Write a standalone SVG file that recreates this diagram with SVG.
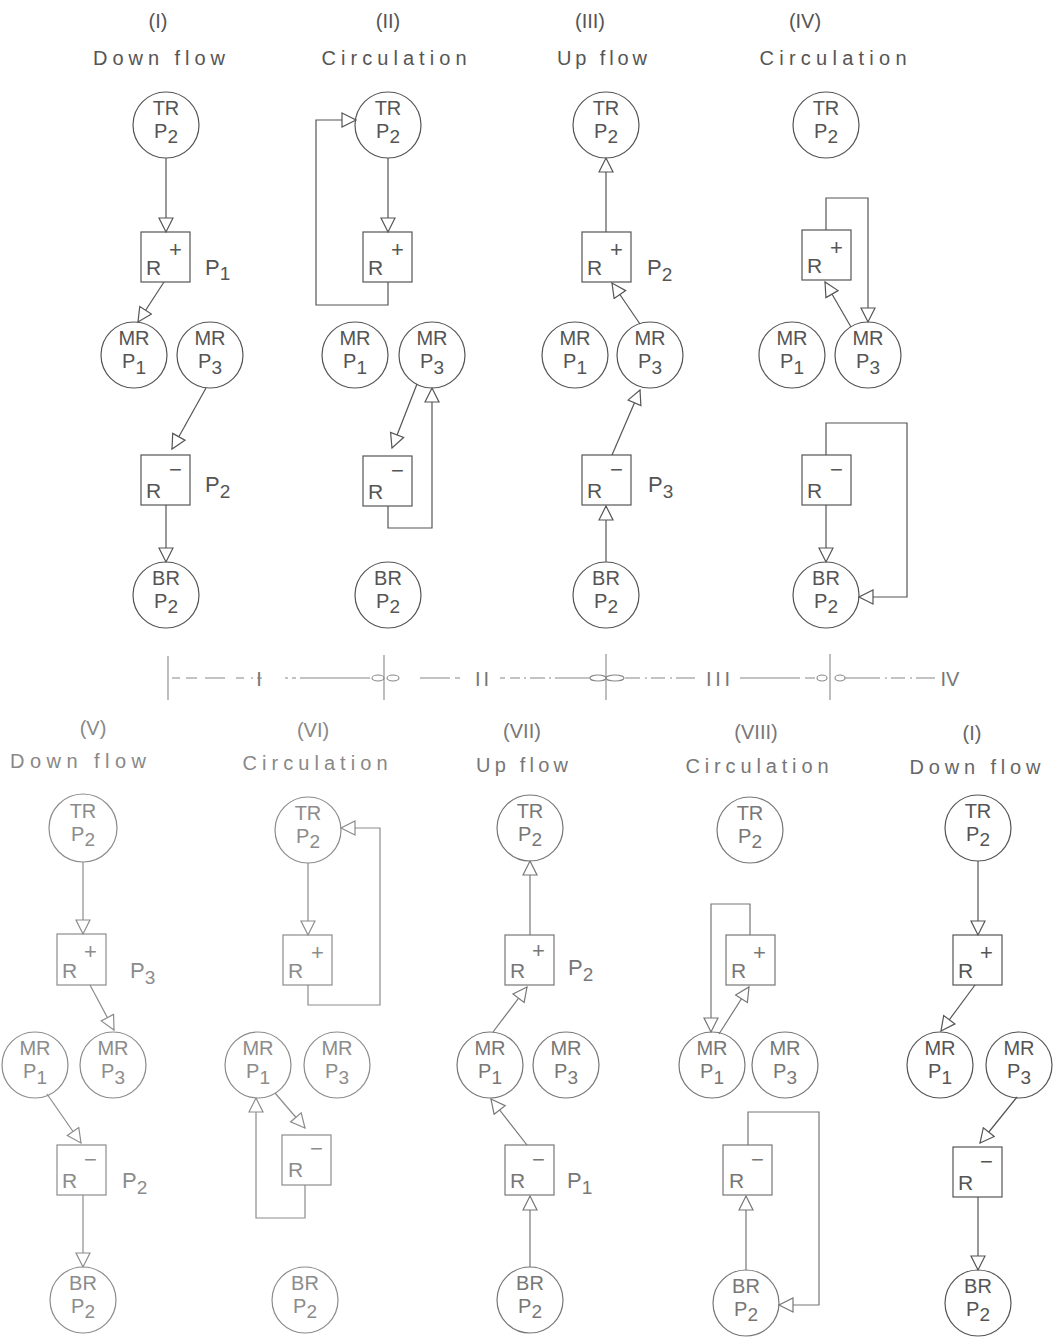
<svg xmlns="http://www.w3.org/2000/svg" width="1055" height="1337" viewBox="0 0 1055 1337">
<style>
text{font-family:"Liberation Sans","DejaVu Sans",sans-serif;fill:#555;}
.t{font-size:20px;text-anchor:middle;}
.n{font-size:20px;text-anchor:middle;}
.bl{font-size:21px;}
.sup{font-size:22px;}
.sb{font-size:19px;}
.lab{font-size:22px;}
circle,rect{fill:none;stroke:#555;stroke-width:1.2;}
rect.bg{fill:#fff;stroke:none;}
.c path{fill:none;stroke:#555;stroke-width:1.2;}
.lt text{fill:#777;}
.lt circle,.lt rect{stroke:#777;}
.vl text{fill:#8c8c8c;}
.vl circle,.vl rect{stroke:#8c8c8c;}
.cl path{stroke:#777;}
.cv path{stroke:#8c8c8c;}
.tl path,.tl line,.tl ellipse{fill:none;stroke:#888;stroke-width:1.1;}
.tl text{fill:#777;font-size:20px;text-anchor:middle;}
</style>
<defs>
<marker id="ah" viewBox="-1 -1 17 17" markerWidth="17" markerHeight="17" refX="14" refY="7" orient="auto" markerUnits="userSpaceOnUse"><path d="M0,0 L14,7 L0,14 Z" fill="#fff" stroke="#555" stroke-width="1.2"/></marker>
<marker id="ahl" viewBox="-1 -1 17 17" markerWidth="17" markerHeight="17" refX="14" refY="7" orient="auto" markerUnits="userSpaceOnUse"><path d="M0,0 L14,7 L0,14 Z" fill="#fff" stroke="#777" stroke-width="1.2"/></marker>
<marker id="ahv" viewBox="-1 -1 17 17" markerWidth="17" markerHeight="17" refX="14" refY="7" orient="auto" markerUnits="userSpaceOnUse"><path d="M0,0 L14,7 L0,14 Z" fill="#fff" stroke="#8c8c8c" stroke-width="1.2"/></marker>
</defs>
<rect class="bg" x="0" y="0" width="1055" height="1337"/>

<!-- ===== Titles top ===== -->
<g id="titles-top">
<text class="t" x="158" y="28">(I)</text>
<text class="t" x="159" y="65" textLength="132" lengthAdjust="spacing">Down flow</text>
<text class="t" x="388" y="28">(II)</text>
<text class="t" x="394" y="65" textLength="145" lengthAdjust="spacing">Circulation</text>
<text class="t" x="590" y="28">(III)</text>
<text class="t" x="602" y="65" textLength="90" lengthAdjust="spacing">Up flow</text>
<text class="t" x="805" y="28">(IV)</text>
<text class="t" x="833" y="65" textLength="147" lengthAdjust="spacing">Circulation</text>
</g>

<!-- ===== Panel I (top) ===== -->
<g id="p1-tr"><circle cx="166" cy="125" r="33"/><text class="n" x="166" y="115">TR</text><text class="n" x="166" y="138">P<tspan class="sb" dy="5">2</tspan></text></g>
<g id="p1-rp"><rect x="141" y="232" width="49" height="50"/><text class="bl" x="146" y="275">R</text><text class="sup" x="169" y="257">+</text></g>
<text id="p1-lab1" class="lab" x="205" y="275">P<tspan class="sb" dy="5">1</tspan></text>
<g id="p1-mr1"><circle cx="134" cy="355" r="33"/><text class="n" x="134" y="345">MR</text><text class="n" x="134" y="368">P<tspan class="sb" dy="6">1</tspan></text></g>
<g id="p1-mr3"><circle cx="210" cy="355" r="33"/><text class="n" x="210" y="345">MR</text><text class="n" x="210" y="368">P<tspan class="sb" dy="6">3</tspan></text></g>
<g id="p1-rm"><rect x="141" y="455" width="49" height="50"/><text class="bl" x="146" y="498">R</text><text class="sup" x="169" y="477">−</text></g>
<text id="p1-lab2" class="lab" x="205" y="492">P<tspan class="sb" dy="6">2</tspan></text>
<g id="p1-br"><circle cx="166" cy="595" r="33"/><text class="n" x="166" y="585">BR</text><text class="n" x="166" y="608">P<tspan class="sb" dy="5">2</tspan></text></g>

<!-- ===== Panel II (top) ===== -->
<g id="p2-tr"><circle cx="388" cy="125" r="33"/><text class="n" x="388" y="115">TR</text><text class="n" x="388" y="138">P<tspan class="sb" dy="5">2</tspan></text></g>
<g id="p2-rp"><rect x="363" y="232" width="49" height="50"/><text class="bl" x="368" y="275">R</text><text class="sup" x="391" y="257">+</text></g>
<g id="p2-mr1"><circle cx="355" cy="355" r="33"/><text class="n" x="355" y="345">MR</text><text class="n" x="355" y="368">P<tspan class="sb" dy="6">1</tspan></text></g>
<g id="p2-mr3"><circle cx="432" cy="355" r="33"/><text class="n" x="432" y="345">MR</text><text class="n" x="432" y="368">P<tspan class="sb" dy="6">3</tspan></text></g>
<g id="p2-rm"><rect x="363" y="456" width="49" height="50"/><text class="bl" x="368" y="499">R</text><text class="sup" x="391" y="478">−</text></g>
<g id="p2-br"><circle cx="388" cy="595" r="33"/><text class="n" x="388" y="585">BR</text><text class="n" x="388" y="608">P<tspan class="sb" dy="5">2</tspan></text></g>

<!-- ===== Panel III (top) ===== -->
<g id="p3-tr"><circle cx="606" cy="125" r="33"/><text class="n" x="606" y="115">TR</text><text class="n" x="606" y="138">P<tspan class="sb" dy="5">2</tspan></text></g>
<g id="p3-rp"><rect x="582" y="232" width="49" height="50"/><text class="bl" x="587" y="275">R</text><text class="sup" x="610" y="257">+</text></g>
<text id="p3-lab1" class="lab" x="647" y="275">P<tspan class="sb" dy="6">2</tspan></text>
<g id="p3-mr1"><circle cx="575" cy="355" r="33"/><text class="n" x="575" y="345">MR</text><text class="n" x="575" y="368">P<tspan class="sb" dy="6">1</tspan></text></g>
<g id="p3-mr3"><circle cx="650" cy="355" r="33"/><text class="n" x="650" y="345">MR</text><text class="n" x="650" y="368">P<tspan class="sb" dy="6">3</tspan></text></g>
<g id="p3-rm"><rect x="582" y="455" width="49" height="50"/><text class="bl" x="587" y="498">R</text><text class="sup" x="610" y="477">−</text></g>
<text id="p3-lab2" class="lab" x="648" y="492">P<tspan class="sb" dy="6">3</tspan></text>
<g id="p3-br"><circle cx="606" cy="595" r="33"/><text class="n" x="606" y="585">BR</text><text class="n" x="606" y="608">P<tspan class="sb" dy="5">2</tspan></text></g>

<!-- ===== Panel IV (top) ===== -->
<g id="p4-tr"><circle cx="826" cy="125" r="33"/><text class="n" x="826" y="115">TR</text><text class="n" x="826" y="138">P<tspan class="sb" dy="5">2</tspan></text></g>
<g id="p4-rp"><rect x="802" y="230" width="49" height="50"/><text class="bl" x="807" y="273">R</text><text class="sup" x="830" y="255">+</text></g>
<g id="p4-mr1"><circle cx="792" cy="355" r="33"/><text class="n" x="792" y="345">MR</text><text class="n" x="792" y="368">P<tspan class="sb" dy="6">1</tspan></text></g>
<g id="p4-mr3"><circle cx="868" cy="355" r="33"/><text class="n" x="868" y="345">MR</text><text class="n" x="868" y="368">P<tspan class="sb" dy="6">3</tspan></text></g>
<g id="p4-rm"><rect x="802" y="455" width="49" height="50"/><text class="bl" x="807" y="498">R</text><text class="sup" x="830" y="477">−</text></g>
<g id="p4-br"><circle cx="826" cy="595" r="33"/><text class="n" x="826" y="585">BR</text><text class="n" x="826" y="608">P<tspan class="sb" dy="5">2</tspan></text></g>

<!-- ===== Connectors top ===== -->
<g id="connectors-top" class="c">
<path d="M166,158 V232" marker-end="url(#ah)"/>
<path d="M164,282 L138,322" marker-end="url(#ah)"/>
<path d="M206,388 L172,449" marker-end="url(#ah)"/>
<path d="M166,505 V562" marker-end="url(#ah)"/>

<path d="M388,158 V232" marker-end="url(#ah)"/>
<path d="M388,282 V305 H316 V120 H356" marker-end="url(#ah)"/>
<path d="M417,384 L392,448" marker-end="url(#ah)"/>
<path d="M388,506 V528 H432 V388" marker-end="url(#ah)"/>

<path d="M606,232 V158" marker-end="url(#ah)"/>
<path d="M640,324 L612,283" marker-end="url(#ah)"/>
<path d="M612,455 L640,390" marker-end="url(#ah)"/>
<path d="M606,562 V506" marker-end="url(#ah)"/>

<path d="M826,230 V198 H868 V322" marker-end="url(#ah)"/>
<path d="M851,327 L825,282" marker-end="url(#ah)"/>
<path d="M826,455 V423 H907 V597 H859" marker-end="url(#ah)"/>
<path d="M826,505 V562" marker-end="url(#ah)"/>
</g>

<!-- ===== Timeline ===== -->
<g id="timeline" class="tl">
<line x1="168" y1="656" x2="168" y2="700"/>
<line x1="384" y1="655" x2="384" y2="700"/>
<line x1="606" y1="654" x2="606" y2="700"/>
<line x1="830" y1="654" x2="830" y2="700"/>
<path d="M172,678 H180 M186,678 H197 M205,678 H225 M236,678 H244 M251,678 H253 M257,678 H262" />
<path d="M285,678 H288 M292,678 H296 M300,678 H370" />
<ellipse cx="378" cy="678" rx="6" ry="3"/><ellipse cx="393" cy="678" rx="6" ry="3"/>
<path d="M420,678 H450 M455,678 H460" />
<path d="M500,678 H505 M510,678 H520 M524,678 H526 M530,678 H545 M549,678 H551 M555,678 H590" />
<ellipse cx="598" cy="678" rx="8" ry="3"/><ellipse cx="615" cy="678" rx="9" ry="3"/>
<path d="M625,678 H640 M645,678 H647 M651,678 H665 M670,678 H672 M676,678 H695" />
<path d="M740,678 H800 M805,678 H815" />
<ellipse cx="822" cy="678" rx="5" ry="3"/><ellipse cx="840" cy="678" rx="5" ry="3"/>
<path d="M845,678 H880 M885,678 H887 M891,678 H905 M910,678 H912 M916,678 H935" />
<text x="259" y="686">I</text>
<text x="482" y="686" textLength="14" lengthAdjust="spacing">II</text>
<text x="718" y="686" textLength="24" lengthAdjust="spacing">III</text>
<text x="950" y="686">IV</text>
</g>

<!-- ===== Titles bottom ===== -->
<g id="titles-bottom">
<text class="t" x="93" y="735" style="fill:#888">(V)</text>
<text class="t" x="78" y="768" textLength="136" lengthAdjust="spacing" style="fill:#888">Down flow</text>
<text class="t" x="313" y="737" style="fill:#888">(VI)</text>
<text class="t" x="315" y="770" textLength="145" lengthAdjust="spacing" style="fill:#888">Circulation</text>
<text class="t" x="522" y="738" style="fill:#777">(VII)</text>
<text class="t" x="522" y="772" textLength="92" lengthAdjust="spacing" style="fill:#777">Up flow</text>
<text class="t" x="756" y="739" style="fill:#777">(VIII)</text>
<text class="t" x="757" y="773" textLength="143" lengthAdjust="spacing" style="fill:#777">Circulation</text>
<text class="t" x="972" y="740" style="fill:#666">(I)</text>
<text class="t" x="975" y="774" textLength="131" lengthAdjust="spacing" style="fill:#666">Down flow</text>
</g>

<!-- ===== Panel V ===== -->
<g class="vl">
<g id="p5-tr"><circle cx="83" cy="828" r="34"/><text class="n" x="83" y="818">TR</text><text class="n" x="83" y="841">P<tspan class="sb" dy="5">2</tspan></text></g>
<g id="p5-rp"><rect x="57" y="934" width="49" height="51"/><text class="bl" x="62" y="978">R</text><text class="sup" x="84" y="959">+</text></g>
<text id="p5-lab1" class="lab" x="130" y="978">P<tspan class="sb" dy="6">3</tspan></text>
<g id="p5-mr1"><circle cx="35" cy="1065" r="33"/><text class="n" x="35" y="1055">MR</text><text class="n" x="35" y="1078">P<tspan class="sb" dy="6">1</tspan></text></g>
<g id="p5-mr3"><circle cx="113" cy="1065" r="33"/><text class="n" x="113" y="1055">MR</text><text class="n" x="113" y="1078">P<tspan class="sb" dy="6">3</tspan></text></g>
<g id="p5-rm"><rect x="57" y="1145" width="49" height="50"/><text class="bl" x="62" y="1188">R</text><text class="sup" x="84" y="1167">−</text></g>
<text id="p5-lab2" class="lab" x="122" y="1188">P<tspan class="sb" dy="6">2</tspan></text>
<g id="p5-br"><circle cx="83" cy="1300" r="33"/><text class="n" x="83" y="1290">BR</text><text class="n" x="83" y="1313">P<tspan class="sb" dy="5">2</tspan></text></g>
</g>

<!-- ===== Panel VI ===== -->
<g class="vl">
<g id="p6-tr"><circle cx="308" cy="830" r="33"/><text class="n" x="308" y="820">TR</text><text class="n" x="308" y="843">P<tspan class="sb" dy="5">2</tspan></text></g>
<g id="p6-rp"><rect x="283" y="935" width="49" height="50"/><text class="bl" x="288" y="978">R</text><text class="sup" x="311" y="960">+</text></g>
<g id="p6-mr1"><circle cx="258" cy="1065" r="33"/><text class="n" x="258" y="1055">MR</text><text class="n" x="258" y="1078">P<tspan class="sb" dy="6">1</tspan></text></g>
<g id="p6-mr3"><circle cx="337" cy="1065" r="33"/><text class="n" x="337" y="1055">MR</text><text class="n" x="337" y="1078">P<tspan class="sb" dy="6">3</tspan></text></g>
<g id="p6-rm"><rect x="282" y="1135" width="49" height="50"/><text class="bl" x="288" y="1177">R</text><text class="sup" x="310" y="1156">−</text></g>
<g id="p6-br"><circle cx="305" cy="1300" r="33"/><text class="n" x="305" y="1290">BR</text><text class="n" x="305" y="1313">P<tspan class="sb" dy="5">2</tspan></text></g>
</g>

<!-- ===== Panel VII ===== -->
<g class="lt">
<g id="p7-tr"><circle cx="530" cy="828" r="33"/><text class="n" x="530" y="818">TR</text><text class="n" x="530" y="841">P<tspan class="sb" dy="5">2</tspan></text></g>
<g id="p7-rp"><rect x="505" y="935" width="49" height="50"/><text class="bl" x="510" y="978">R</text><text class="sup" x="532" y="958">+</text></g>
<text id="p7-lab1" class="lab" x="568" y="975">P<tspan class="sb" dy="6">2</tspan></text>
<g id="p7-mr1"><circle cx="490" cy="1065" r="33"/><text class="n" x="490" y="1055">MR</text><text class="n" x="490" y="1078">P<tspan class="sb" dy="6">1</tspan></text></g>
<g id="p7-mr3"><circle cx="566" cy="1065" r="33"/><text class="n" x="566" y="1055">MR</text><text class="n" x="566" y="1078">P<tspan class="sb" dy="6">3</tspan></text></g>
<g id="p7-rm"><rect x="505" y="1145" width="49" height="50"/><text class="bl" x="510" y="1188">R</text><text class="sup" x="532" y="1167">−</text></g>
<text id="p7-lab2" class="lab" x="567" y="1188">P<tspan class="sb" dy="6">1</tspan></text>
<g id="p7-br"><circle cx="530" cy="1300" r="33"/><text class="n" x="530" y="1290">BR</text><text class="n" x="530" y="1313">P<tspan class="sb" dy="5">2</tspan></text></g>
</g>

<!-- ===== Panel VIII ===== -->
<g class="lt">
<g id="p8-tr"><circle cx="750" cy="830" r="33"/><text class="n" x="750" y="820">TR</text><text class="n" x="750" y="843">P<tspan class="sb" dy="5">2</tspan></text></g>
<g id="p8-rp"><rect x="726" y="935" width="49" height="50"/><text class="bl" x="731" y="978">R</text><text class="sup" x="753" y="960">+</text></g>
<g id="p8-mr1"><circle cx="712" cy="1065" r="33"/><text class="n" x="712" y="1055">MR</text><text class="n" x="712" y="1078">P<tspan class="sb" dy="6">1</tspan></text></g>
<g id="p8-mr3"><circle cx="785" cy="1065" r="33"/><text class="n" x="785" y="1055">MR</text><text class="n" x="785" y="1078">P<tspan class="sb" dy="6">3</tspan></text></g>
<g id="p8-rm"><rect x="723" y="1145" width="49" height="50"/><text class="bl" x="729" y="1188">R</text><text class="sup" x="751" y="1167">−</text></g>
<g id="p8-br"><circle cx="746" cy="1303" r="33"/><text class="n" x="746" y="1293">BR</text><text class="n" x="746" y="1316">P<tspan class="sb" dy="5">2</tspan></text></g>
</g>

<!-- ===== Panel I (bottom) ===== -->
<g>
<g id="p9-tr"><circle cx="978" cy="828" r="33"/><text class="n" x="978" y="818">TR</text><text class="n" x="978" y="841">P<tspan class="sb" dy="5">2</tspan></text></g>
<g id="p9-rp"><rect x="953" y="935" width="49" height="50"/><text class="bl" x="958" y="978">R</text><text class="sup" x="980" y="960">+</text></g>
<g id="p9-mr1"><circle cx="940" cy="1065" r="33"/><text class="n" x="940" y="1055">MR</text><text class="n" x="940" y="1078">P<tspan class="sb" dy="6">1</tspan></text></g>
<g id="p9-mr3"><circle cx="1019" cy="1065" r="33"/><text class="n" x="1019" y="1055">MR</text><text class="n" x="1019" y="1078">P<tspan class="sb" dy="6">3</tspan></text></g>
<g id="p9-rm"><rect x="953" y="1147" width="49" height="50"/><text class="bl" x="958" y="1190">R</text><text class="sup" x="980" y="1169">−</text></g>
<g id="p9-br"><circle cx="978" cy="1303" r="33"/><text class="n" x="978" y="1293">BR</text><text class="n" x="978" y="1316">P<tspan class="sb" dy="5">2</tspan></text></g>
</g>

<!-- ===== Connectors bottom ===== -->
<g id="connectors-bottom" class="c">
<g class="cv">
<path d="M83,862 V934" marker-end="url(#ahv)"/>
<path d="M90,985 L114,1030" marker-end="url(#ahv)"/>
<path d="M47,1094 L81,1143" marker-end="url(#ahv)"/>
<path d="M83,1195 V1267" marker-end="url(#ahv)"/>

<path d="M308,863 V935" marker-end="url(#ahv)"/>
<path d="M308,985 V1005 H380 V828 H341" marker-end="url(#ahv)"/>
<path d="M275,1093 L305,1128" marker-end="url(#ahv)"/>
<path d="M305,1185 V1218 H256 V1098" marker-end="url(#ahv)"/>
</g>
<g class="cl">
<path d="M530,935 V861" marker-end="url(#ahl)"/>
<path d="M493,1032 L527,987" marker-end="url(#ahl)"/>
<path d="M527,1145 L491,1099" marker-end="url(#ahl)"/>
<path d="M530,1267 V1196" marker-end="url(#ahl)"/>

<path d="M750,935 V904 H711 V1032" marker-end="url(#ahl)"/>
<path d="M719,1034 L749,987" marker-end="url(#ahl)"/>
<path d="M748,1145 V1112 H819 V1305 H779" marker-end="url(#ahl)"/>
<path d="M746,1270 V1196" marker-end="url(#ahl)"/>
</g>
<path d="M978,861 V935" marker-end="url(#ah)"/>
<path d="M975,985 L941,1031" marker-end="url(#ah)"/>
<path d="M1017,1097 L980,1143" marker-end="url(#ah)"/>
<path d="M978,1197 V1270" marker-end="url(#ah)"/>
</g>
</svg>
